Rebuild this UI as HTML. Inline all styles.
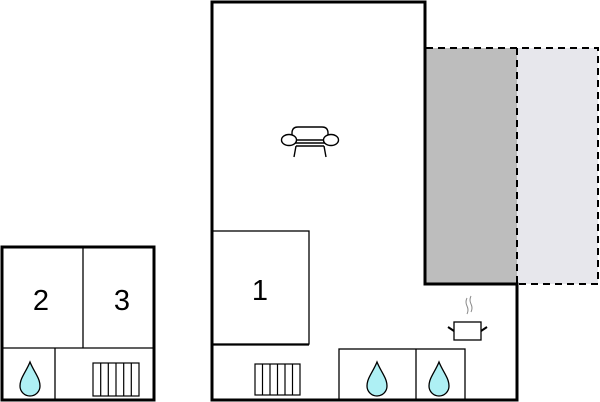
<!DOCTYPE html>
<html><head><style>html,body{margin:0;padding:0;background:#fff;width:600px;height:402px;overflow:hidden}</style></head>
<body>
<svg width="600" height="402" viewBox="0 0 600 402" xmlns="http://www.w3.org/2000/svg" font-family="Liberation Sans, sans-serif">
<defs>
<g id="drop"><path d="M0,-16 C-4,-6 -10,0 -10,8 A10,10 0 0 0 10,8 C10,0 4,-6 0,-16 Z" fill="#aef0f4" stroke="#000" stroke-width="1.3"/></g>
</defs>
<rect x="426" y="48" width="91" height="236" fill="#bdbdbd"/>
<rect x="517" y="48" width="81" height="236" fill="#e7e7ec"/>
<g stroke="#000" stroke-width="2" stroke-dasharray="7,5" fill="none">
<path d="M426,48 H598 V284 H517"/>
<path d="M517,48 V284"/>
</g>
<path d="M212,2 H425 V284 H517 V400 H212 Z" fill="none" stroke="#000" stroke-width="3"/>
<g stroke="#000" stroke-width="1.3" fill="none">
<rect x="212" y="231" width="97" height="113"/>
<path d="M212,345 H309"/>
<rect x="339" y="349" width="126" height="51"/>
<path d="M416,349 V400"/>
</g>
<g stroke="#000" stroke-width="1.2" fill="none">
<rect x="255" y="364" width="45" height="31"/>
<path d="M262.5,364V395M270,364V395M277.5,364V395M285,364V395M292.5,364V395"/>
<rect x="93" y="363" width="46" height="33"/>
<path d="M100.7,363V396M108.3,363V396M116,363V396M123.7,363V396M131.3,363V396"/>
</g>
<use href="#drop" x="377" y="378"/>
<use href="#drop" x="439" y="378"/>
<use href="#drop" x="30" y="378"/>
<rect x="2" y="247" width="152" height="153" fill="none" stroke="#000" stroke-width="3"/>
<g stroke="#000" stroke-width="1.3">
<path d="M83,247 V348 M2,348 H154 M55,348 V400"/>
</g>
<g font-size="29" text-anchor="middle" fill="#000">
<text x="260" y="300">1</text>
<text x="41" y="310">2</text>
<text x="122" y="310">3</text>
</g>
<!-- sofa -->
<g stroke="#000" stroke-width="1.4" fill="#fff">
<path d="M292,139 V133 Q292,127 298,127 H322 Q328,127 328,133 V139"/>
<path d="M296,146 L294,157 M324,146 L326,157" fill="none"/>
<path d="M294,143 H326" fill="none"/>
<ellipse cx="289" cy="140" rx="7.5" ry="5.5"/>
<ellipse cx="331" cy="140" rx="7.5" ry="5.5"/>
<path d="M296,140 H324 M296,146 H324" fill="none"/>
</g>
<!-- pot -->
<g stroke="#000" stroke-width="1.3" fill="#fff">
<rect x="454" y="322" width="27" height="18"/>
<path d="M448,327 L454,331 M487,327 L481,331" stroke-width="2"/>
</g>
<g stroke="#888" stroke-width="1" fill="none">
<path d="M467,298 q-2,4 0,8 q2,4 0,8"/>
<path d="M471,296 q-2,4 0,8 q2,4 0,8"/>
</g>
</svg>
</body></html>
